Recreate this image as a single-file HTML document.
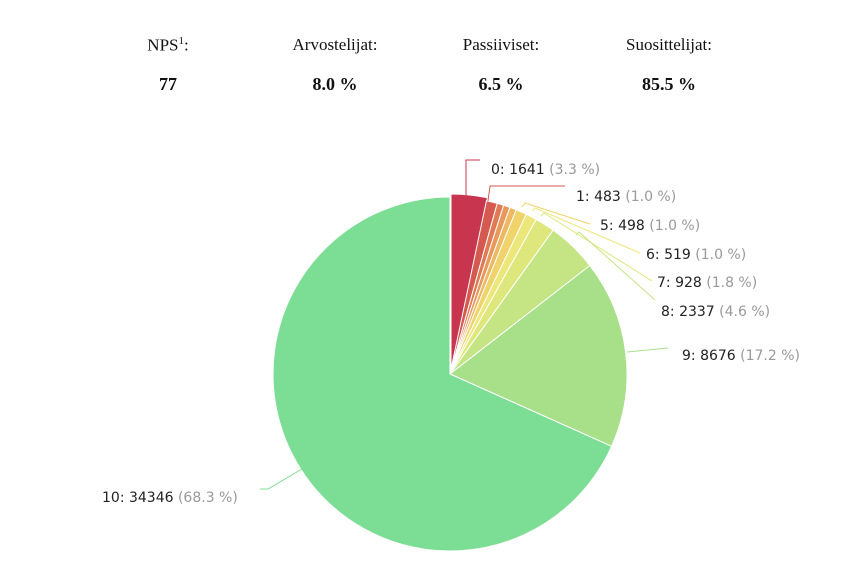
<!DOCTYPE html>
<html><head><meta charset="utf-8"><style>
body{margin:0;background:#fff;width:847px;height:564px;overflow:hidden;position:relative}
.h{position:absolute;font-family:"Liberation Serif",serif;font-size:17px;color:#111;transform:translateX(-50%);white-space:nowrap}
.b{font-weight:bold;font-size:18px}
svg{position:absolute;left:0;top:0}
svg text{font-family:"DejaVu Sans","Liberation Sans",sans-serif;font-size:14px;fill:#222}
svg tspan.g{fill:#999}
</style></head><body>
<div class="h" style="left:168px;top:35px">NPS<sup style="font-size:11px">1</sup>:</div>
<div class="h" style="left:335px;top:35px">Arvostelijat:</div>
<div class="h" style="left:501px;top:35px">Passiiviset:</div>
<div class="h" style="left:669px;top:35px">Suosittelijat:</div>
<div class="h b" style="left:168px;top:74px">77</div>
<div class="h b" style="left:335px;top:74px">8.0 %</div>
<div class="h b" style="left:501px;top:74px">6.5 %</div>
<div class="h b" style="left:669px;top:74px">85.5 %</div>
<svg width="847" height="564" id="s">
<g id="p"></g>
<g fill="none" stroke-width="1">
<polyline points="466,197 466,160 480,160" stroke="#c8354f"/>
<polyline points="488,201 490,186 565,186" stroke="#d45a50"/>
<polyline points="522,207 525,203 590,224" stroke="#f0d36a"/>
<polyline points="532,211 535,208 640,253" stroke="#ece77a"/>
<polyline points="541,216 544,213 652,281" stroke="#dde77c"/>
<polyline points="576,235 579,232 655,300" stroke="#c5e483"/>
<polyline points="627,352 668,348" stroke="#a8e08a"/>
<polyline points="302,469 268,489 260,489" stroke="#7cdd94"/>
</g>
<text x="491" y="174">0: 1641 <tspan class="g">(3.3 %)</tspan></text>
<text x="576" y="201">1: 483 <tspan class="g">(1.0 %)</tspan></text>
<text x="600" y="230">5: 498 <tspan class="g">(1.0 %)</tspan></text>
<text x="646" y="259">6: 519 <tspan class="g">(1.0 %)</tspan></text>
<text x="657" y="287">7: 928 <tspan class="g">(1.8 %)</tspan></text>
<text x="661" y="316">8: 2337 <tspan class="g">(4.6 %)</tspan></text>
<text x="682" y="360">9: 8676 <tspan class="g">(17.2 %)</tspan></text>
<text x="102" y="502">10: 34346 <tspan class="g">(68.3 %)</tspan></text>
</svg>
<script>
var d=[[3.3,"#c8354f"],[1.0,"#d45a50"],[0.6,"#df7a55"],[0.6,"#e8985a"],[0.6,"#edb862"],[1.0,"#f0d36a"],[1.0,"#ece77a"],[1.8,"#dde77c"],[4.6,"#c5e483"],[17.2,"#a8e08a"],[68.3,"#7cdd94"]];
var tot=0;d.forEach(x=>tot+=x[0]);
var cx=450,cy=374,r=177,a=0,h="";
d.forEach((x,i)=>{var a2=a+x[0]/tot*2*Math.PI;var ox=0,oy=0;if(i==0){ox=1;oy=-3}
var p=(t,rr)=>[(cx+ox+rr*Math.sin(t)).toFixed(2),(cy+oy-rr*Math.cos(t)).toFixed(2)];
var s=p(a,r),e=p(a2,r),c=[cx+ox,cy+oy];
h+='<path d="M'+c+' L'+s+' A'+r+','+r+' 0 '+((a2-a)>Math.PI?1:0)+' 1 '+e+' Z" fill="'+x[1]+'" stroke="#fff" stroke-width="1"/>';a=a2;});
document.getElementById("p").innerHTML=h;
</script>
</body></html>
